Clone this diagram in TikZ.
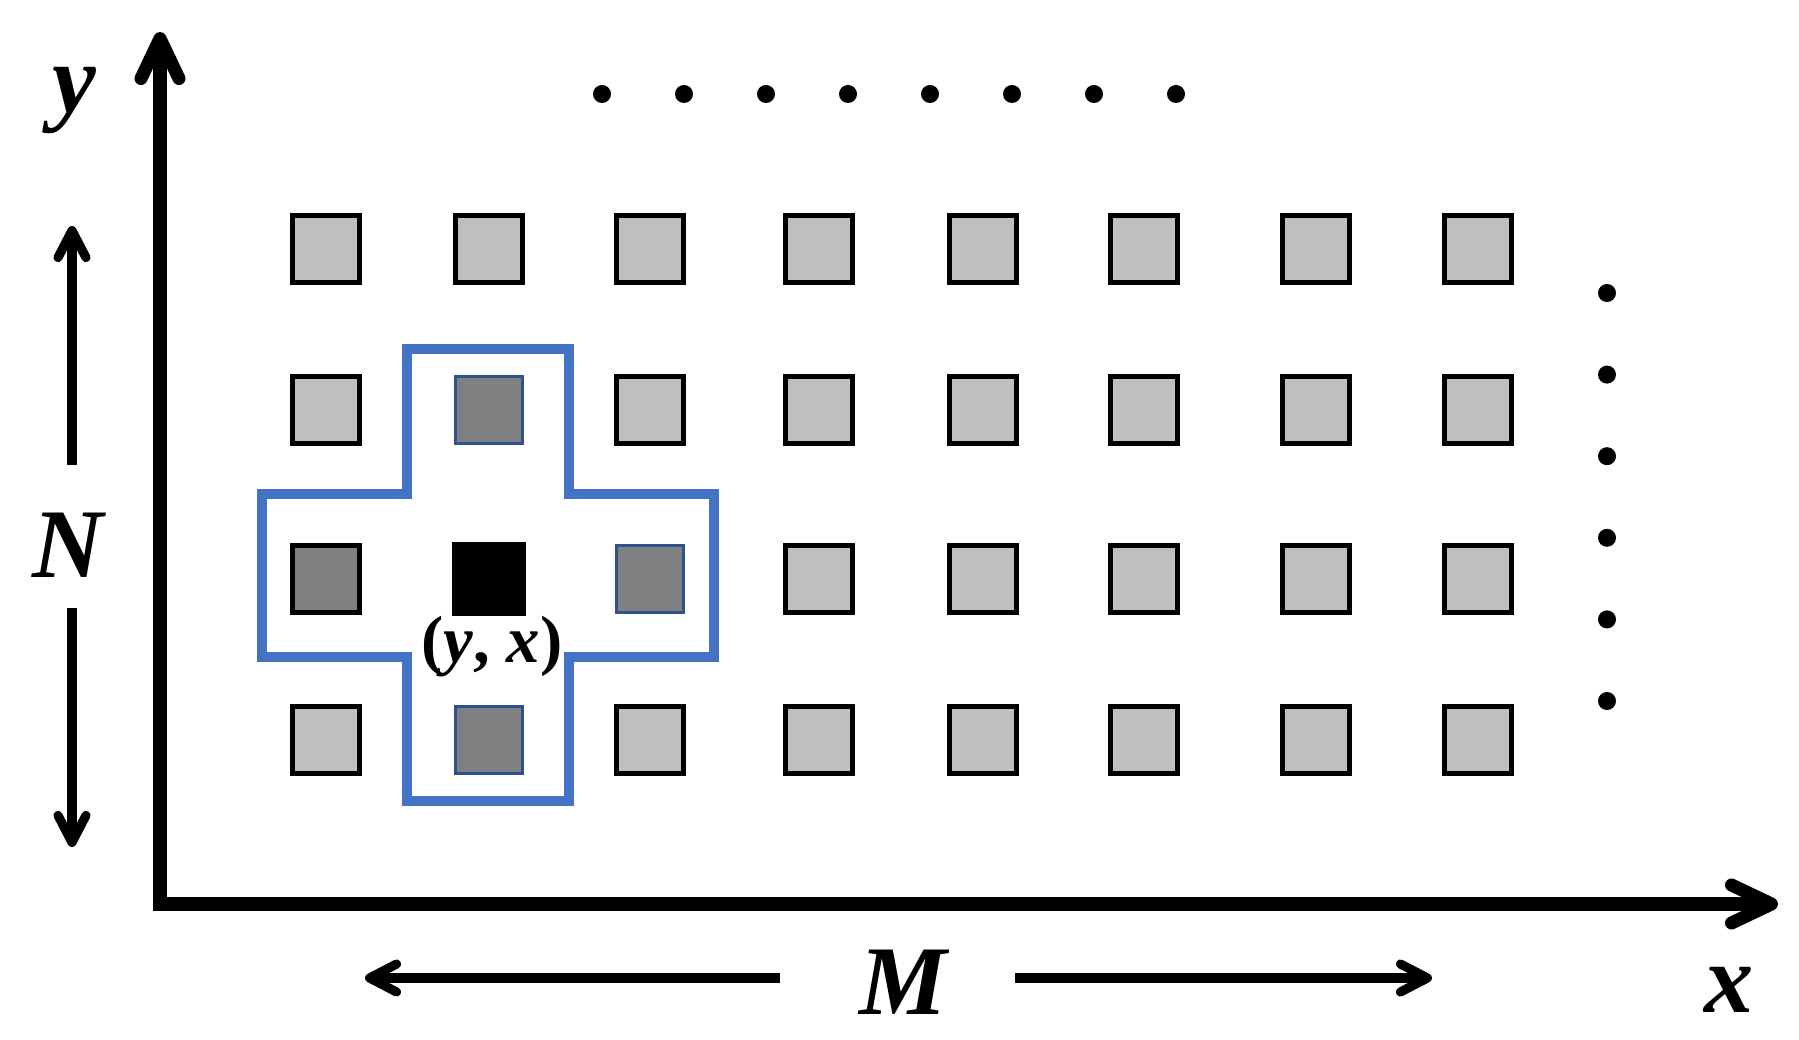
\documentclass[tikz,border=0pt]{standalone}
\usepackage{fontspec}
\setmainfont{Liberation Serif}
\usetikzlibrary{arrows.meta}
\definecolor{crossblue}{RGB}{68,114,196}
\definecolor{edgeblue} {RGB}{47,82,143}
\definecolor{lightpx}  {RGB}{191,191,191}
\definecolor{darkpx}   {RGB}{128,128,128}

\begin{document}
\begin{tikzpicture}[x=0.01cm, y=-0.01cm,
          px/.style={rectangle,draw=black,line width=1.4pt,fill=lightpx,minimum size=0.67cm,inner sep=0pt},
          nb/.style={px,fill=darkpx,draw=edgeblue,line width=1.1pt},
          nbk/.style={px,fill=darkpx},
          ctr/.style={rectangle,fill=black,minimum size=0.73cm,inner sep=0pt},
          dot/.style={circle,fill=black,minimum size=0.18cm,inner sep=0pt},
          axis/.style={line width=3.7pt,line join=miter},
          span/.style={line width=2.6pt,-{Straight Barb[round,length=2.7mm,width=2.8mm]}},
          crossline/.style={draw=crossblue,line width=3.1pt,line join=miter},
          lbl/.style={font=\fontsize{28}{30}\selectfont\bfseries\itshape,inner sep=0pt}
      ]
        \useasboundingbox (0,0) rectangle (1799,1040);
        \coordinate (ytip) at (160,32);
        \coordinate (o)    at (160,904);
        \coordinate (xtip) at (1778,904);
        \draw[axis,{Straight Barb[round,length=4mm,width=3.8mm]}-{Straight Barb[round,length=4mm,width=3.8mm]}]
              (ytip) -- (o) -- (xtip);

        \draw[crossline] (407,349) -- (569,349) -- (569,494) -- (714,494) -- (714,657) -- (569,657)
              -- (569,801) -- (407,801) -- (407,657) -- (262,657) -- (262,494) -- (407,494) -- cycle;

        \foreach \cy [count=\row] in {249,410,579,740}
          \foreach \cx [count=\col] in {326,489,650,819,983,1144,1316,1478}{
            \def\kind{px}
            \ifnum\row\col=22 \def\kind{nb}\fi
            \ifnum\row\col=31 \def\kind{nbk}\fi
            \ifnum\row\col=32 \def\kind{ctr}\fi
            \ifnum\row\col=33 \def\kind{nb}\fi
            \ifnum\row\col=42 \def\kind{nb}\fi
            \node[\kind] (p\row\col) at (\cx,\cy) {};
          }
        \node[font=\fontsize{19}{21}\selectfont\bfseries,inner sep=0pt] (pos) at (492,647) {(\textit{y}, \textit{x})};

        \foreach \k in {0,...,7} \node[dot] (t\k) at (602+82*\k,94) {};
        \foreach \k in {0,...,5} \node[dot] (r\k) at (1607,293+81.6*\k) {};

        \node[lbl] (ly) at (74,101)  {y};
        \node[lbl] (ln) at (68,545)  {N};
        \node[lbl] (lm) at (903,982) {M};
        \node[lbl] (lx) at (1729,990) {x};

        \coordinate (n1) at (72,465);  \coordinate (n2) at (72,226);
        \coordinate (n3) at (72,608);  \coordinate (n4) at (72,847);
        \coordinate (m1) at (780,978); \coordinate (m2) at (365,978);
        \coordinate (m3) at (1015,978);\coordinate (m4) at (1432,978);
        \draw[span] (n1) -- (n2);
        \draw[span] (n3) -- (n4);
        \draw[span] (m1) -- (m2);
        \draw[span] (m3) -- (m4);
      \end{tikzpicture}
\end{document}
